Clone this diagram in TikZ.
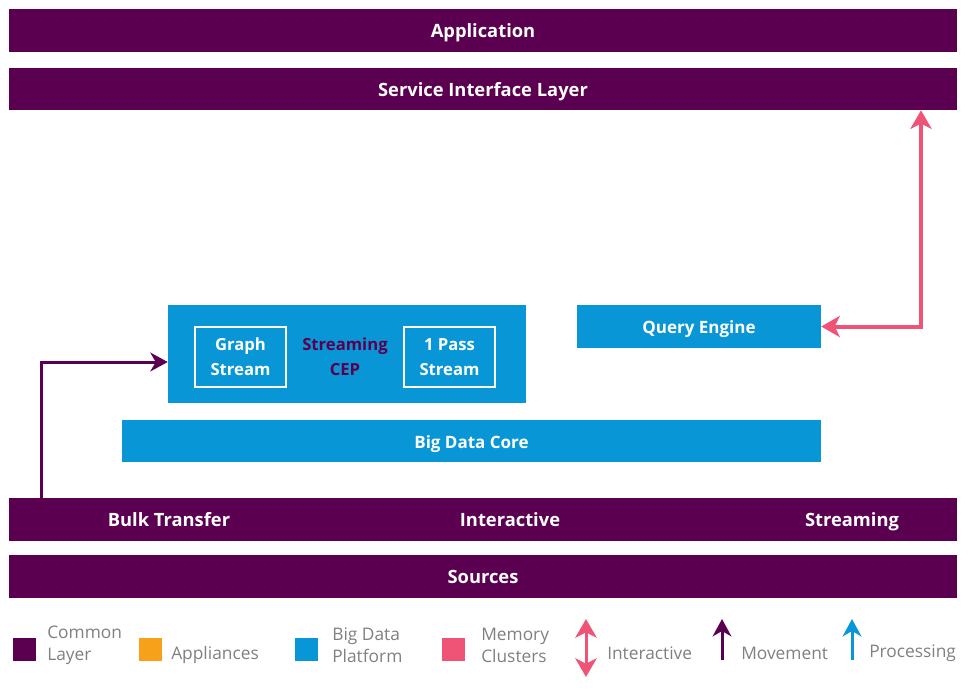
\documentclass[tikz,border=0pt]{standalone}
\usepackage{fontspec}
\setmainfont{Open Sans}
\usetikzlibrary{arrows.meta, positioning, calc}

\definecolor{commonpurple}{HTML}{5B0050}
\definecolor{platformblue}{HTML}{0996D6}
\definecolor{memorypink}{HTML}{EF5476}
\definecolor{applorange}{HTML}{F7A11A}
\definecolor{legendgray}{HTML}{808080}

\begin{document}
\begin{tikzpicture}[
    x=0.75pt, y=-0.75pt,
    font=\fontsize{12.5}{18.5}\selectfont,
    % Styles
    layer/.style={
        fill=commonpurple, inner sep=0pt, text=white,
        minimum width=711pt, minimum height=32.25pt,
        text height=11pt, text depth=0pt,
        font=\fontsize{13.75}{18.5}\selectfont\bfseries
    },
    platform/.style={
        fill=platformblue, inner sep=0pt, text=white,
        text height=11pt, text depth=0pt,
        font=\fontsize{12.75}{18.5}\selectfont\bfseries
    },
    substream/.style={
        draw=white, line width=1.6pt, inner sep=0pt, text=white,
        minimum width=68.25pt, minimum height=45pt,
        align=center, font=\fontsize{12.5}{18.5}\selectfont\bfseries
    },
    barlabel/.style={
        text=white, text height=10.5pt, text depth=0pt,
        font=\fontsize{13.75}{18.5}\selectfont\bfseries
    },
    swatch/.style={minimum size=17.25pt, inner sep=0pt},
    legendtext/.style={
        text=legendgray, align=left, anchor=west, inner sep=0pt,
        font=\fontsize{13}{16.5}\selectfont
    },
    interarrow/.style={
        {Stealth[length=14pt, width=16pt, inset=4pt]}-{Stealth[length=14pt, width=16pt, inset=4pt]},
        memorypink, line width=3pt
    },
    movearrow/.style={
        -{Stealth[length=13pt, width=14pt, inset=4pt]},
        commonpurple, line width=2.25pt
    }
]
    \useasboundingbox (0,0) rectangle (972,690);

    % --- Top layers ---
    \node[layer] (app) at (483,30.5) {Application};
    \node[layer, minimum height=31.5pt] (service) at (483,89) {Service Interface Layer};

    % --- Big data platform ---
    \node[platform, minimum width=268.5pt, minimum height=73.5pt] (streaming) at (347,354) {};
    \node[substream] (graph) at (240.5,357) {Graph\\Stream};
    \node[substream] (onepass) at (449.5,357) {1 Pass\\Stream};
    \node[align=center, text=commonpurple, font=\fontsize{12.5}{18.5}\selectfont\bfseries]
        (cep) at ($(graph.center)!0.5!(onepass.center)$) {Streaming\\CEP};
    \node[platform, minimum width=183pt, minimum height=32.25pt] (query) at (699,326.5) {Query Engine};
    \node[platform, minimum width=524.25pt, minimum height=31.5pt] (core) at (471.5,441) {Big Data Core};

    % --- Bottom layers ---
    \node[layer] (common) at (483,519.5) {};
    \node[barlabel] (bulk) at (169,519.5) {Bulk Transfer};
    \node[barlabel] (interlabel) at (510,519.5) {Interactive};
    \node[barlabel] (streamlabel) at (852,519.5) {Streaming};
    \node[layer, text height=10pt] (sources) at (483,576.5) {Sources};

    % --- Connections ---
    \coordinate (bulkup) at (41,498);
    \draw[movearrow] (bulkup) |- ([yshift=-6pt]streaming.west);
    \draw[interarrow] (query.east) -| (service.south -| 921,0);

    % --- Legend ---
    \node[swatch, fill=commonpurple] (sw1) at (24.5,649.5) {};
    \node[legendtext] (lg1) at (47,645) {Common\\Layer};
    \node[swatch, fill=applorange] (sw2) at (150.5,649.5) {};
    \node[legendtext] (lg2) at (171,655) {Appliances};
    \node[swatch, fill=platformblue] (sw3) at (306.5,649.5) {};
    \node[legendtext] (lg3) at (332,645) {Big Data\\Platform};
    \node[swatch, fill=memorypink] (sw4) at (453.5,649.5) {};
    \node[legendtext] (lg4) at (481,645) {Memory\\Clusters};

    \coordinate (ia1) at (586,619);
    \coordinate (ia2) at (586,677);
    \draw[interarrow, line width=2.25pt] (ia1) -- (ia2);
    \node[legendtext] (lg5) at (607,653) {Interactive};

    \coordinate (mv1) at (722,660);
    \coordinate (mv2) at (722,619);
    \draw[movearrow] (mv1) -- (mv2);
    \node[legendtext] (lg6) at (741,653) {Movement};

    \coordinate (pr1) at (852,660);
    \coordinate (pr2) at (852,619);
    \draw[movearrow, platformblue] (pr1) -- (pr2);
    \node[legendtext] (lg7) at (869,653) {Processing};

\end{tikzpicture}
\end{document}
